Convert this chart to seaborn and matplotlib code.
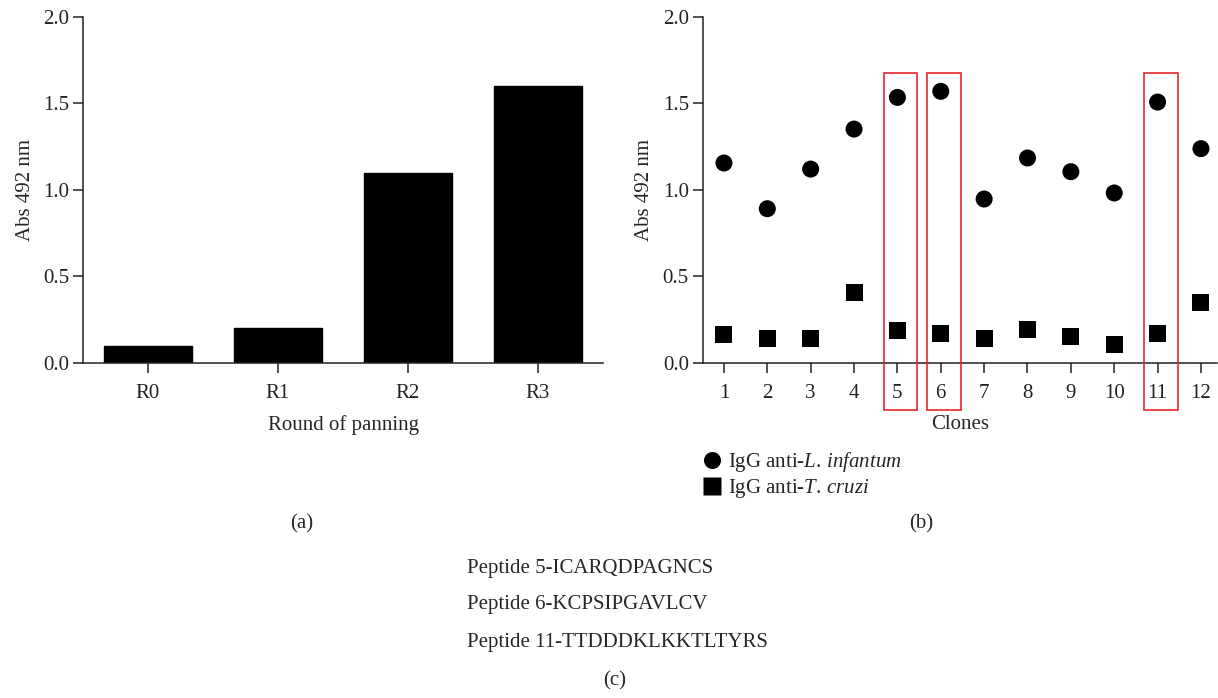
import matplotlib
matplotlib.use("Agg")
import matplotlib.pyplot as plt
import seaborn as sns
import pandas as pd
from matplotlib.patches import Rectangle

# ---- data ----
rounds = ["R0", "R1", "R2", "R3"]
round_abs = [0.10, 0.20, 1.10, 1.60]

clones = [1, 2, 3, 4, 5, 6, 7, 8, 9, 10, 11, 12]
abs_linfantum = [1.155, 0.891, 1.120, 1.351, 1.534, 1.569, 0.947, 1.184, 1.105, 0.982, 1.507, 1.238]
abs_tcruzi = [0.167, 0.142, 0.142, 0.410, 0.185, 0.171, 0.140, 0.196, 0.152, 0.106, 0.171, 0.348]
highlighted = [5, 6, 11]

series_names = ["IgG anti-$\\it{L.\\,infantum}$", "IgG anti-$\\it{T.\\,cruzi}$"]
yticks = [0.0, 0.5, 1.0, 1.5, 2.0]
peptides = ["Peptide 5-ICARQDPAGNCS", "Peptide 6-KCPSIPGAVLCV", "Peptide 11-TTDDDKLKKTLTYRS"]

sns.set_theme(style="ticks")
plt.rcParams["font.family"] = ["Liberation Serif", "DejaVu Serif"]
plt.rcParams["mathtext.fontset"] = "custom"
plt.rcParams["mathtext.rm"] = "Liberation Serif"
plt.rcParams["mathtext.it"] = "Liberation Serif:italic"
plt.rcParams["axes.linewidth"] = 1.1
plt.rcParams["axes.edgecolor"] = "#222222"
plt.rcParams["xtick.major.size"] = 7
plt.rcParams["ytick.major.size"] = 7
plt.rcParams["xtick.major.width"] = 1.1
plt.rcParams["ytick.major.width"] = 1.1
plt.rcParams["xtick.color"] = "#222222"
plt.rcParams["ytick.color"] = "#222222"

FS = 15
W, H = 1218, 698
fig = plt.figure(figsize=(W / 100, H / 100), dpi=100)

def fx(px):
    return px / W

def fy(py):
    return 1 - py / H

# ---- panel (a) ----
axa = fig.add_axes([fx(83), fy(363), fx(603 - 83), fy(16.7) - fy(363)])
dfa = pd.DataFrame({"round": rounds, "abs": round_abs})
sns.barplot(data=dfa, x="round", y="abs", color="black", width=0.68,
            saturation=1, edgecolor="black", ax=axa)
axa.set_xlim(-0.5, 3.5)
axa.set_ylim(0, 2.0)
axa.set_yticks(yticks)
axa.set_yticklabels([f"{v:.1f}" for v in yticks], fontsize=FS)
axa.tick_params(axis="x", labelsize=FS, pad=8)
axa.tick_params(axis="y", pad=3)
axa.set_xlabel("Round of panning", fontsize=FS, labelpad=9)
axa.set_ylabel("Abs 492 nm", fontsize=FS, labelpad=6)
sns.despine(ax=axa)

# ---- panel (b) ----
axb = fig.add_axes([fx(702.7), fy(363), fx(1217 - 702.7), fy(16.7) - fy(363)])
dfb = pd.DataFrame({
    "clone": clones * 2,
    "abs": abs_linfantum + abs_tcruzi,
    "series": [series_names[0]] * len(clones) + [series_names[1]] * len(clones),
})
sns.scatterplot(data=dfb, x="clone", y="abs", style="series", markers=["o", "s"],
                color="black", s=150, edgecolor="none", ax=axb)
axb.set_xlim(0.51, 12.37)
axb.set_ylim(0, 2.0)
axb.set_xticks(clones)
axb.set_xticklabels([str(c) for c in clones], fontsize=FS)
axb.set_yticks(yticks)
axb.set_yticklabels([f"{v:.1f}" for v in yticks], fontsize=FS)
axb.tick_params(axis="x", pad=8)
axb.tick_params(axis="y", pad=3)
axb.set_xlabel("Clones", fontsize=FS, labelpad=9)
axb.set_ylabel("Abs 492 nm", fontsize=FS, labelpad=6)
sns.despine(ax=axb)

for c in highlighted:
    axb.add_patch(Rectangle((c - 0.31, -0.27), 0.77, 1.677 + 0.27, fill=False,
                            edgecolor="#e8262b", linewidth=1.2, clip_on=False, zorder=5))

sns.move_legend(axb, loc="upper left", bbox_to_anchor=(fx(691), fy(442)),
                bbox_transform=fig.transFigure, title=None, frameon=False,
                fontsize=FS, handletextpad=0.2, handlelength=1.2,
                labelspacing=0.15, markerscale=1.0, borderaxespad=0)

# ---- panel labels and peptides ----
fig.text(fx(302), fy(524), "(a)", ha="center", va="center", fontsize=FS)
fig.text(fx(921), fy(524), "(b)", ha="center", va="center", fontsize=FS)
for i, p in enumerate(peptides):
    fig.text(fx(467), fy(568 + 37 * i), p, ha="left", va="center", fontsize=FS)
fig.text(fx(615), fy(681), "(c)", ha="center", va="center", fontsize=FS)

fig.savefig("out.png", dpi=100)
